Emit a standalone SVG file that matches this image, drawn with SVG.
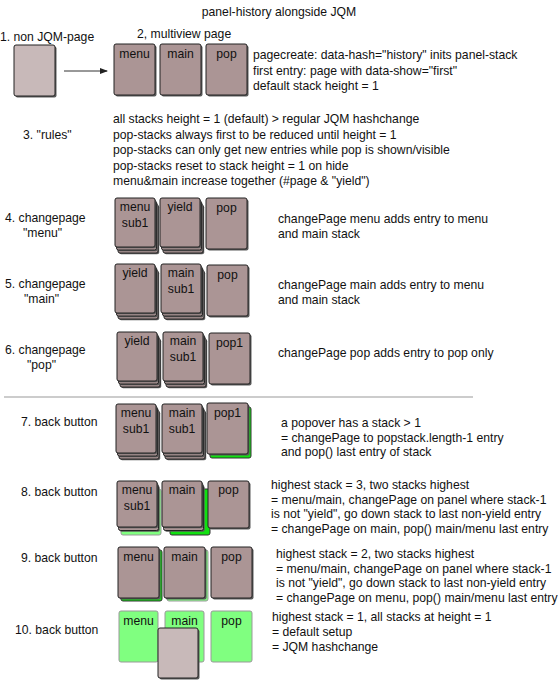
<svg xmlns="http://www.w3.org/2000/svg" width="558" height="680" viewBox="0 0 558 680">
<style>
.t{font-family:"Liberation Sans",Arial,sans-serif;font-size:12.2px;fill:#111}
.c{text-anchor:middle}
.card{fill:#ab9595;stroke:#222;stroke-width:1}
.light{fill:#c8b9b9;stroke:#222;stroke-width:1}
.sh{fill:#5a5a5a}
.g1{fill:#11e011;stroke:#333;stroke-width:1}
.g2{fill:#80ff80;stroke:#999;stroke-width:1}
.conn{stroke:#333;stroke-width:1;fill:none}
.sep{stroke:#bbb;stroke-width:1.5}
</style>
<defs>
<marker id="ah" markerWidth="8" markerHeight="6" refX="7" refY="3" orient="auto" markerUnits="userSpaceOnUse">
<path d="M0,0 L8,3 L0,6 Z" fill="#222"/>
</marker>
<g id="single"><rect class="sh" x="1.5" y="1.5" width="41" height="51" rx="2"/><rect class="card" width="41" height="51" rx="2"/></g>
<g id="front"><rect class="sh" x="1.2" y="1.2" width="40" height="49" rx="2"/><rect class="card" width="40" height="49" rx="2"/></g>
<g id="stack"><use href="#front" x="3" y="6"/><use href="#front" x="1.5" y="3"/><use href="#front"/></g>
</defs>

<text class="t c" x="279" y="16">panel-history alongside JQM</text>

<g id="labels">
<text class="t" x="0" y="41">1. non JQM-page</text>
<text class="t" x="137" y="38">2, multiview page</text>
<text class="t" x="23" y="139">3. "rules"</text>
<text class="t" x="5" y="222">4. changepage</text>
<text class="t" x="23" y="237">"menu"</text>
<text class="t" x="5" y="288">5. changepage</text>
<text class="t" x="24" y="303">"main"</text>
<text class="t" x="5" y="354">6. changepage</text>
<text class="t" x="27" y="369">"pop"</text>
<text class="t" x="21" y="426">7. back button</text>
<text class="t" x="21" y="496">8. back button</text>
<text class="t" x="21" y="562">9. back button</text>
<text class="t" x="15" y="634">10. back button</text>
</g>

<g id="notes">
<text class="t" x="253" y="59">pagecreate: data-hash="history" inits panel-stack</text>
<text class="t" x="253" y="75">first entry: page with data-show="first"</text>
<text class="t" x="253" y="90">default stack height = 1</text>
<text class="t" x="113" y="123">all stacks height = 1 (default) &gt; regular JQM hashchange</text>
<text class="t" x="113" y="138.5">pop-stacks always first to be reduced until height = 1</text>
<text class="t" x="113" y="154">pop-stacks can only get new entries while pop is shown/visible</text>
<text class="t" x="113" y="169.5">pop-stacks reset to stack height = 1 on hide</text>
<text class="t" x="113" y="185">menu&amp;main increase together (#page &amp; "yield")</text>
<text class="t" x="278" y="223">changePage menu adds entry to menu</text>
<text class="t" x="278" y="238">and main stack</text>
<text class="t" x="278" y="289">changePage main adds entry to menu</text>
<text class="t" x="278" y="304">and main stack</text>
<text class="t" x="278" y="357">changePage pop adds entry to pop only</text>
<text class="t" x="281" y="427">a popover has a stack &gt; 1</text>
<text class="t" x="281" y="441.5">= changePage to popstack.length-1 entry</text>
<text class="t" x="281" y="456">and pop() last entry of stack</text>
<text class="t" x="271" y="489">highest stack = 3, two stacks highest</text>
<text class="t" x="271" y="503.5">= menu/main, changePage on panel where stack-1</text>
<text class="t" x="271" y="518">is not "yield", go down stack to last non-yield entry</text>
<text class="t" x="271" y="532.5">= changePage on main, pop() main/menu last entry</text>
<text class="t" x="276" y="558">highest stack = 2, two stacks highest</text>
<text class="t" x="276" y="572.5">= menu/main, changePage on panel where stack-1</text>
<text class="t" x="276" y="587">is not "yield", go down stack to last non-yield entry</text>
<text class="t" x="276" y="601.5">= changePage on menu, pop() main/menu last entry</text>
<text class="t" x="272" y="621">highest stack = 1, all stacks at height = 1</text>
<text class="t" x="272" y="636">= default setup</text>
<text class="t" x="272" y="651">= JQM hashchange</text>
</g>

<g id="connectors">
<line class="conn" x1="64" y1="71" x2="107" y2="71" marker-end="url(#ah)"/>
<line class="sep" x1="4" y1="397" x2="473" y2="397"/>
</g>

<g id="n1-page"><rect class="sh" x="15.5" y="46.5" width="41" height="51" rx="2"/><rect class="light" x="14" y="45" width="41" height="51" rx="2"/></g>

<g id="n2-menu" transform="translate(114,44)"><use href="#single"/><text class="t c" x="20.5" y="14">menu</text></g>
<g id="n2-main" transform="translate(160,44)"><use href="#single"/><text class="t c" x="20.5" y="14">main</text></g>
<g id="n2-pop" transform="translate(206,44)"><use href="#single"/><text class="t c" x="20.5" y="14">pop</text></g>

<g id="n4-menu" transform="translate(115,198)"><use href="#stack"/><text class="t c" x="20" y="13">menu</text><text class="t c" x="20" y="29">sub1</text></g>
<g id="n4-yield" transform="translate(160,198)"><use href="#stack"/><text class="t c" x="20" y="13">yield</text></g>
<g id="n4-pop" transform="translate(206,198)"><use href="#single"/><text class="t c" x="20.5" y="14">pop</text></g>

<g id="n5-yield" transform="translate(115,264)"><use href="#stack"/><text class="t c" x="20" y="13">yield</text></g>
<g id="n5-main" transform="translate(161,264)"><use href="#stack"/><text class="t c" x="20" y="13">main</text><text class="t c" x="20" y="29">sub1</text></g>
<g id="n5-pop" transform="translate(207,265)"><use href="#single"/><text class="t c" x="20.5" y="14">pop</text></g>

<g id="n6-yield" transform="translate(117,332)"><use href="#stack"/><text class="t c" x="20" y="13">yield</text></g>
<g id="n6-main" transform="translate(163,332)"><use href="#stack"/><text class="t c" x="20" y="13">main</text><text class="t c" x="20" y="29">sub1</text></g>
<g id="n6-pop" transform="translate(209,333)"><use href="#single"/><text class="t c" x="20.5" y="14">pop1</text></g>

<g id="n7-menu" transform="translate(116,404)"><use href="#stack"/><text class="t c" x="20" y="13">menu</text><text class="t c" x="20" y="29">sub1</text></g>
<g id="n7-main" transform="translate(162,404)"><use href="#stack"/><text class="t c" x="20" y="13">main</text><text class="t c" x="20" y="29">sub1</text></g>
<g id="n7-pop" transform="translate(207,403)"><rect class="g1" x="3" y="4" width="41" height="51" rx="2"/><use href="#single"/><text class="t c" x="20.5" y="14">pop1</text></g>

<g id="n8-menu" transform="translate(117,481)"><rect class="g2" x="4" y="8" width="40" height="46" rx="2"/><rect class="sh" x="2.7" y="4.7" width="40" height="46" rx="2"/><rect class="card" x="1.5" y="3.5" width="40" height="46" rx="2"/><rect class="sh" x="1.2" y="1.2" width="40" height="46" rx="2"/><rect class="card" width="40" height="46" rx="2"/><text class="t c" x="20" y="13">menu</text><text class="t c" x="20" y="29">sub1</text></g>
<g id="n8-main" transform="translate(162,481)"><rect class="g1" x="8" y="8" width="40" height="46" rx="2"/><rect class="sh" x="2.7" y="4.7" width="40" height="46" rx="2"/><rect class="card" x="1.5" y="3.5" width="40" height="46" rx="2"/><rect class="sh" x="1.2" y="1.2" width="40" height="46" rx="2"/><rect class="card" width="40" height="46" rx="2"/><text class="t c" x="20" y="13">main</text></g>
<g id="n8-pop" transform="translate(208,481)"><rect class="sh" x="1.5" y="1.5" width="41" height="47" rx="2"/><rect class="card" width="41" height="47" rx="2"/><text class="t c" x="20.5" y="13">pop</text></g>

<g id="n9-menu" transform="translate(118,547)"><rect class="g1" x="3" y="3" width="41" height="51" rx="2"/><use href="#single"/><text class="t c" x="20.5" y="14">menu</text></g>
<g id="n9-main" transform="translate(164,547)"><rect class="g2" x="3" y="3" width="41" height="51" rx="2"/><use href="#single"/><text class="t c" x="20.5" y="14">main</text></g>
<g id="n9-pop" transform="translate(211,547)"><use href="#single"/><text class="t c" x="20.5" y="14">pop</text></g>

<g id="n10-menu" transform="translate(119,611)"><rect class="g2" width="39" height="51" rx="2"/><text class="t c" x="19.5" y="14">menu</text></g>
<g id="n10-main" transform="translate(165,611)"><rect class="g2" width="39" height="51" rx="2"/><text class="t c" x="19.5" y="14">main</text></g>
<g id="n10-pop" transform="translate(211,611)"><rect class="g2" width="41" height="51" rx="2"/><text class="t c" x="20.5" y="14">pop</text></g>
<g id="n10-page"><rect class="sh" x="159.5" y="629.5" width="40" height="50" rx="2"/><rect class="light" x="158" y="628" width="40" height="50" rx="2"/></g>
</svg>
